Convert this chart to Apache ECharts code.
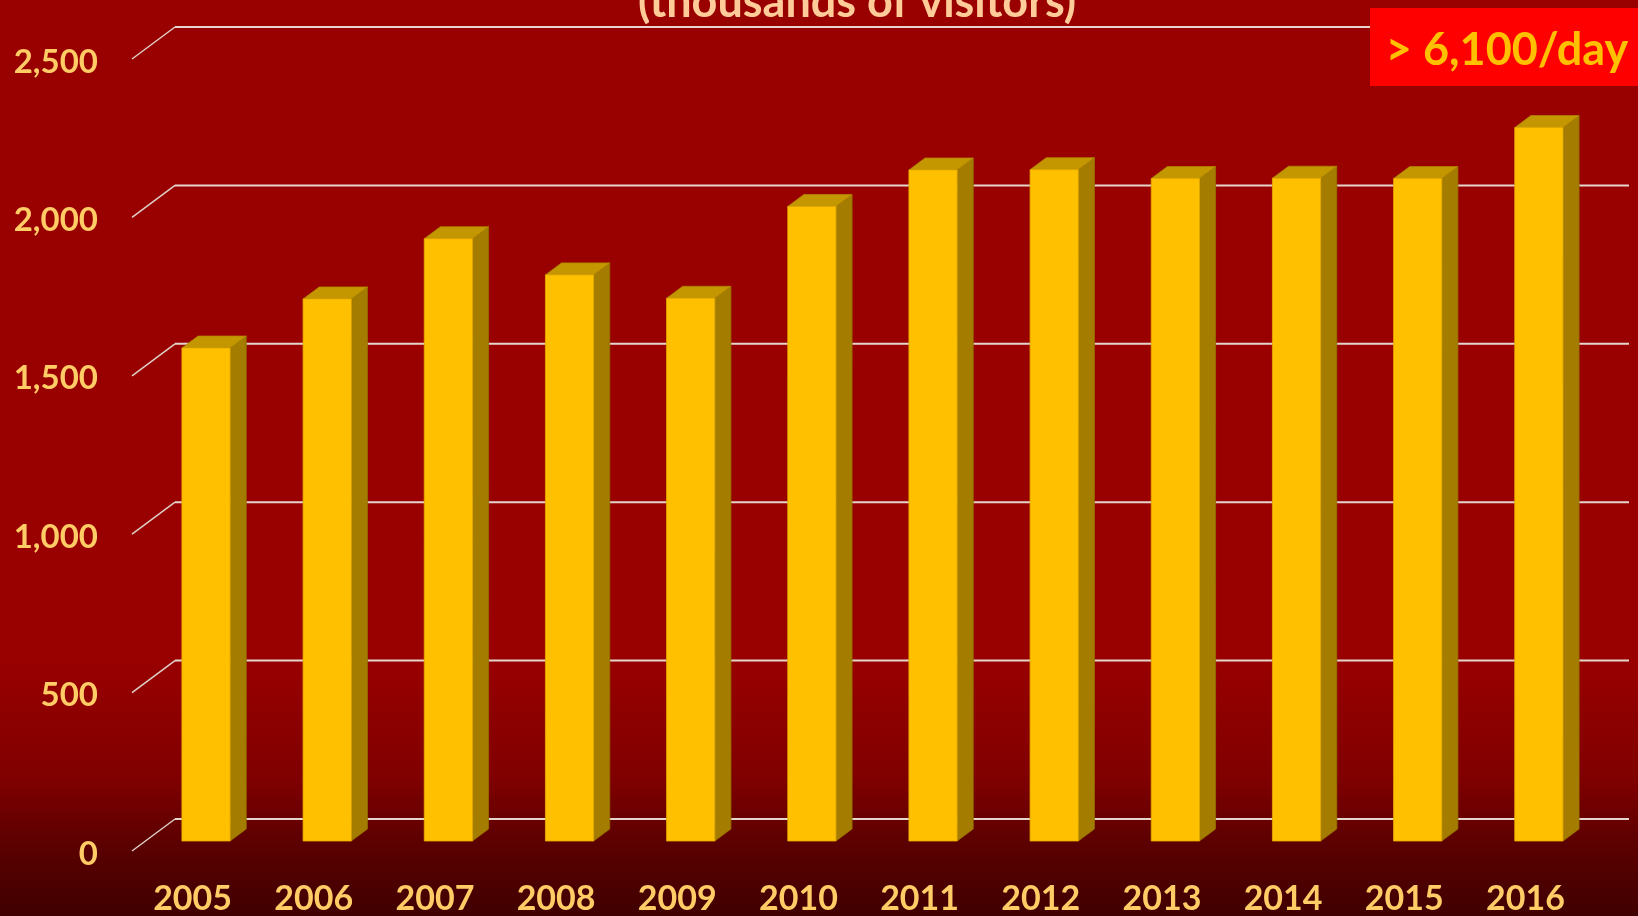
<!DOCTYPE html>
<html>
<head>
<meta charset="utf-8">
<script src="https://cdn.jsdelivr.net/npm/echarts@6/dist/echarts.min.js"></script>
<style>
  html, body { margin: 0; padding: 0; width: 1638px; height: 916px; overflow: hidden; }
  #chart { width: 1638px; height: 916px; }
</style>
</head>
<body>
<div id="chart"></div>
<script>
// Annual visitors, thousands
const years = ['2005', '2006', '2007', '2008', '2009', '2010', '2011', '2012', '2013', '2014', '2015', '2016'];
const visitors = [1556, 1711, 1901, 1787, 1713, 2003, 2118, 2119, 2091, 2092, 2091, 2252];
const yTicks = [0, 500, 1000, 1500, 2000, 2500];
const subtitle = '(thousands of visitors)';
const callout = '> 6,100/day';

const FONT = 'Lato, "Open Sans", sans-serif';
// depth of the 3D floor (pixels, oblique projection) and the bar slab within it
const DEPTH = [43, -32];
const BAR_FRONT = 10 / 32;
const BAR_BACK = 22 / 32;

const chart = echarts.init(document.getElementById('chart'));

// back-wall gridline with its side-wall diagonal, plus the value label at the floor's front edge
function renderWall(params, api) {
  const cs = params.coordSys;
  const v = api.value(1);
  const y = api.coord([0, v])[1];
  return {
    type: 'group',
    children: [
      { type: 'line', shape: { x1: cs.x, y1: y, x2: cs.x + DEPTH[0], y2: y + DEPTH[1] },
        style: { stroke: '#ddd0c8', lineWidth: 1.5 } },
      { type: 'line', shape: { x1: cs.x + DEPTH[0], y1: y + DEPTH[1], x2: cs.x + cs.width + DEPTH[0], y2: y + DEPTH[1] },
        style: { stroke: '#e4d6cc', lineWidth: 2 } },
      { type: 'text', x: cs.x - 34, y: y + 3,
        style: {
          text: v.toLocaleString('en-US'), fill: '#ffcc66', font: 'bold 33px ' + FONT,
          textAlign: 'right', textVerticalAlign: 'middle'
        } }
    ]
  };
}

function renderBar(params, api) {
  const idx = api.value(0);
  const val = api.value(1);
  const base = api.coord([idx, 0]);
  const top = api.coord([idx, val]);
  const band = api.size([1, 0])[0];
  const w = band * 0.398;
  const xL = base[0] - w / 2 + DEPTH[0] * BAR_FRONT;
  const xR = xL + w;
  const yB = base[1] + DEPTH[1] * BAR_FRONT;
  const yT = top[1] + DEPTH[1] * BAR_FRONT;
  const dx = DEPTH[0] * (BAR_BACK - BAR_FRONT);
  const dy = DEPTH[1] * (BAR_BACK - BAR_FRONT);
  return {
    type: 'group',
    children: [
      { type: 'polygon', shape: { points: [[xR, yT], [xR + dx, yT + dy], [xR + dx, yB + dy], [xR, yB]] },
        style: { fill: '#a47d00', stroke: '#957000', lineWidth: 0.8 } },
      { type: 'polygon', shape: { points: [[xL, yT], [xR, yT], [xR + dx, yT + dy], [xL + dx, yT + dy]] },
        style: { fill: '#c49600', stroke: '#b08600', lineWidth: 0.8 } },
      { type: 'rect', shape: { x: xL, y: yT, width: w, height: yB - yT },
        style: { fill: '#ffc000', stroke: '#e6ac00', lineWidth: 0.8 } }
    ]
  };
}

chart.setOption({
  animation: false,
  backgroundColor: {
    type: 'linear', x: 0, y: 0, x2: 0, y2: 1,
    colorStops: [
      { offset: 0, color: '#990000' },
      { offset: 0.72, color: '#990000' },
      { offset: 0.85, color: '#800000' },
      { offset: 0.92, color: '#5c0000' },
      { offset: 1, color: '#400000' }
    ]
  },
  grid: { left: 132, right: 52, top: 59, bottom: 64 },
  xAxis: {
    type: 'category',
    data: years,
    axisLine: { show: false },
    axisTick: { show: false },
    splitLine: { show: false },
    axisLabel: {
      color: '#ffcc66', fontFamily: FONT, fontWeight: 'bold', fontSize: 34,
      lineHeight: 34, margin: 31
    }
  },
  yAxis: {
    type: 'value',
    min: 0, max: 2500, interval: 500,
    axisLine: { show: false },
    axisTick: { show: false },
    splitLine: { show: false },
    axisLabel: { show: false }
  },
  series: [
    {
      type: 'custom',
      renderItem: renderWall,
      data: yTicks.map(v => [0, v]),
      encode: { x: 0, y: 1 },
      clip: false,
      silent: true,
      z: 1
    },
    {
      type: 'custom',
      renderItem: renderBar,
      data: visitors.map((v, i) => [i, v]),
      encode: { x: 0, y: 1 },
      clip: false,
      z: 2
    }
  ],
  graphic: [
    {
      type: 'text', x: 857, y: -20, z: 10,
      style: {
        text: subtitle, fill: '#ffcc99', font: 'bold 45px ' + FONT,
        textAlign: 'center', textVerticalAlign: 'top'
      }
    },
    {
      type: 'rect', left: 1370, top: 8, z: 10,
      shape: { width: 268, height: 78 },
      style: { fill: '#ff0000' }
    },
    {
      type: 'text', x: 1507, y: 50, z: 11,
      style: {
        text: callout, fill: '#ffc000', font: 'bold 45px ' + FONT,
        textAlign: 'center', textVerticalAlign: 'middle'
      }
    }
  ]
});
</script>
</body>
</html>
